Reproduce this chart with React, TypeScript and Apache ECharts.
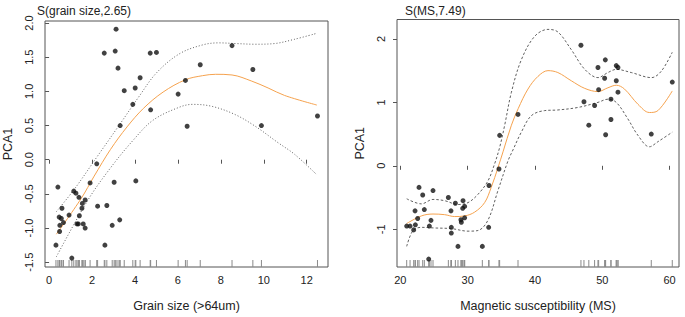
import React, { useEffect, useRef } from "react";
import * as echarts from "echarts";

// Left panel: grain size
const grainX = [2.57, 3.12, 3.08, 3.21, 3.31, 3.5, 3.9, 4.01, 4.24, 4.71, 4.73, 5.0, 6.01, 6.35, 6.43, 7.04, 8.52, 9.49, 9.89, 12.5,
  2.22, 0.41, 1.91, 3.03, 4.04, 1.15, 1.25, 1.39, 1.68, 1.55, 0.6, 1.53, 2.26, 2.69, 0.93, 1.41, 0.47, 0.57, 0.67, 3.29,
  0.5, 1.3, 1.36, 1.59, 1.68, 2.94, 0.49, 0.32, 2.6, 1.06];
const grainY = [1.56, 1.91, 1.59, 1.34, 0.5, 1.01, 0.81, 1.05, 1.2, 1.56, 0.73, 1.57, 0.96, 1.16, 0.49, 1.39, 1.67, 1.32, 0.5, 0.64,
  -0.06, -0.4, -0.34, -0.33, -0.31, -0.46, -0.49, -0.55, -0.59, -0.64, -0.71, -0.71, -0.68, -0.67, -0.81, -0.82, -0.84, -0.86, -0.92, -0.88,
  -0.96, -0.94, -0.94, -0.94, -1.0, -0.96, -1.05, -1.25, -1.25, -1.44];
const gFitX = [0.34, 1.49, 2.1, 2.86, 3.63, 4.39, 5.31, 6.35, 7.15, 7.76, 8.52, 9.44, 10.2, 10.97, 12.47];
const gFit = [-1.09, -0.57, -0.24, 0.15, 0.48, 0.75, 0.99, 1.17, 1.23, 1.25, 1.24, 1.15, 1.05, 0.94, 0.8];
const gUpperX = [0.34, 1.18, 2.25, 3.32, 4.2, 5.0, 6.07, 7.15, 7.9, 8.7, 9.6, 10.5, 11.4, 12.47];
const gUpper = [-0.76, -0.43, 0.05, 0.53, 0.93, 1.27, 1.55, 1.68, 1.71, 1.7, 1.69, 1.7, 1.76, 1.85];
const gLowerX = [0.34, 1.79, 2.86, 3.93, 4.85, 6.08, 6.69, 7.6, 8.67, 9.6, 10.66, 11.43, 12.47];
const gLower = [-1.42, -0.6, -0.12, 0.29, 0.58, 0.77, 0.81, 0.78, 0.66, 0.49, 0.25, 0.08, -0.22];
const gXTicks = [0, 2, 4, 6, 8, 10, 12];
const gYTicks = [-1.5, -1.0, -0.5, 0.0, 0.5, 1.0, 1.5, 2.0];

// Right panel: magnetic susceptibility
const msX = [46.83, 49.36, 50.45, 52.08, 52.33, 50.35, 52.08, 49.46, 52.33, 51.29, 47.28, 48.86, 37.48, 48.0, 51.29, 50.5, 34.75, 57.28, 60.4,
  34.65, 33.17, 22.77, 24.85, 23.32, 27.13, 29.31, 28.17, 29.55, 29.26, 23.56, 27.52, 22.18, 29.55, 22.57, 29.0, 24.55, 29.06, 22.23,
  20.94, 21.44, 24.31, 27.57, 33.12, 21.98, 27.57, 28.56, 32.18, 24.21];
const msY = [1.9, 1.55, 1.67, 1.58, 1.55, 1.38, 1.34, 1.2, 1.16, 1.05, 1.01, 0.95, 0.81, 0.64, 0.73, 0.49, 0.48, 0.5, 1.32,
  -0.05, -0.31, -0.34, -0.39, -0.46, -0.5, -0.55, -0.59, -0.64, -0.67, -0.69, -0.71, -0.71, -0.82, -0.83, -0.85, -0.86, -0.89, -0.93,
  -0.95, -0.95, -0.95, -0.97, -0.97, -1.01, -1.06, -1.27, -1.27, -1.47];
const mFitX = [20.94, 23.12, 24.85, 26.58, 28.07, 29.55, 31.04, 32.52, 33.5, 34.5, 35.25, 36.5, 37.5, 38.96, 40.45, 41.93, 43.4, 45.4, 47.4, 49.36, 50.84, 52.08, 53.3, 55.3, 57.0, 58.27, 60.4];
const mFit = [-0.91, -0.79, -0.76, -0.77, -0.8, -0.79, -0.73, -0.58, -0.34, -0.03, 0.22, 0.64, 0.9, 1.21, 1.41, 1.5, 1.47, 1.34, 1.22, 1.17, 1.23, 1.27, 1.21, 0.97, 0.84, 0.87, 1.18];
const mUpperX = [20.94, 23.12, 24.85, 26.58, 28.56, 30.05, 31.53, 33.0, 34.0, 34.75, 35.5, 36.5, 37.97, 39.95, 41.93, 43.4, 45.4, 47.4, 49.36, 50.84, 52.08, 54.3, 57.3, 58.76, 60.4];
const mUpper = [-0.52, -0.6, -0.53, -0.55, -0.61, -0.58, -0.45, -0.24, 0.03, 0.29, 0.64, 1.16, 1.67, 2.04, 2.15, 2.11, 1.83, 1.52, 1.39, 1.47, 1.52, 1.47, 1.39, 1.49, 1.79];
const mLowerX = [20.94, 21.88, 23.12, 25.1, 27.57, 30.05, 31.53, 33.0, 34.5, 36.0, 36.73, 37.97, 39.46, 41.44, 43.4, 46.4, 49.36, 50.84, 52.08, 53.8, 55.3, 57.0, 58.27, 60.4];
const mLower = [-1.27, -1.02, -0.97, -0.98, -0.99, -1.03, -1.02, -0.86, -0.39, 0.08, 0.25, 0.53, 0.79, 0.87, 0.88, 0.92, 1.0, 1.05, 1.0, 0.74, 0.48, 0.3, 0.38, 0.53];
const mXTicks = [20, 30, 40, 50, 60];
const mYTicks = [-1, 0, 1, 2];

const titles = ["S(grain size,2.65)", "S(MS,7.49)"];
const xNames = ["Grain size (>64um)", "Magnetic susceptibility (MS)"];
const yName = "PCA1";

const FONT = "'Liberation Sans', Arial, Helvetica, sans-serif";
const TXT = "#222";
const BOX = "#555";
const ORANGE = "#f5a24e";
const CI = "#606060";

const zip = (xs: number[], ys: number[]) => xs.map((x, i) => [x, ys[i]]);

export default function App() {
  const ref = useRef<HTMLDivElement>(null);
  useEffect(() => {
    if (!ref.current) return;
    const chart = echarts.init(ref.current, null, { renderer: "svg" });
    const gMin = -1.57, gMax = 2.03, mMin = -1.595, mMax = 2.306;
    const xAxisBase = (gi: number, min: number, max: number, ticks: number[], name: string, fmt: (v: number) => string) => ({
      type: "value",
      gridIndex: gi,
      min,
      max,
      name,
      nameLocation: "middle",
      nameGap: 32,
      nameTextStyle: { fontSize: 12.5, color: TXT, fontFamily: FONT },
      axisLine: { show: false },
      splitLine: { show: false },
      axisTick: { show: true, length: 4, customValues: ticks, lineStyle: { color: BOX } },
      axisLabel: { customValues: ticks, fontSize: 11, color: TXT, margin: 7, fontFamily: FONT, formatter: fmt },
    });
    const yAxisBase = (gi: number, min: number, max: number, ticks: number[], fmt: (v: number) => string) => ({
      type: "value",
      gridIndex: gi,
      min,
      max,
      name: yName,
      nameLocation: "middle",
      nameGap: 31,
      nameTextStyle: { fontSize: 12.5, color: TXT, fontFamily: FONT },
      axisLine: { show: false },
      splitLine: { show: false },
      axisTick: { show: true, length: 4, customValues: ticks, lineStyle: { color: BOX } },
      axisLabel: { customValues: ticks, fontSize: 11, color: TXT, margin: 11, rotate: 90, fontFamily: FONT, formatter: fmt },
    });
    const rug = (xi: number, xs: number[], ymin: number) => ({
      type: "custom",
      xAxisIndex: xi,
      yAxisIndex: xi,
      data: xs.map((x) => [x, ymin]),
      encode: { x: 0, y: 1 },
      silent: true,
      renderItem: (params: any, api: any) => {
        const p = api.coord([api.value(0), api.value(1)]);
        return {
          type: "line",
          shape: { x1: p[0], y1: p[1], x2: p[0], y2: p[1] - 7 },
          style: { stroke: "#8a8a8a", lineWidth: 1 },
        };
      },
    });
    const line = (xi: number, xs: number[], ys: number[], color: string, type: any) => ({
      type: "line",
      xAxisIndex: xi,
      yAxisIndex: xi,
      data: zip(xs, ys),
      smooth: 0.35,
      showSymbol: false,
      symbol: "none",
      silent: true,
      lineStyle: { color, width: 1, type },
      z: 3,
    });
    const scatter = (xi: number, xs: number[], ys: number[]) => ({
      type: "scatter",
      xAxisIndex: xi,
      yAxisIndex: xi,
      data: zip(xs, ys),
      symbolSize: 5,
      itemStyle: { color: "#111" },
      silent: true,
      z: 4,
    });
    chart.setOption({
      animation: false,
      textStyle: { fontFamily: FONT },
      title: [
        { text: titles[0], left: 32, top: 0, textStyle: { fontSize: 12, fontWeight: "normal", color: TXT, fontFamily: FONT } },
        { text: titles[1], left: 400, top: 0, textStyle: { fontSize: 12, fontWeight: "normal", color: TXT, fontFamily: FONT } },
      ],
      grid: [
        { left: 41, top: 21, width: 287, height: 250, show: true, borderColor: BOX, borderWidth: 1, backgroundColor: "transparent" },
        { left: 397, top: 19.5, width: 282, height: 251.5, show: true, borderColor: BOX, borderWidth: 1, backgroundColor: "transparent" },
      ],
      xAxis: [
        xAxisBase(0, -0.19, 12.99, gXTicks, xNames[0], (v: number) => String(v)),
        xAxisBase(1, 19.5, 61.4, mXTicks, xNames[1], (v: number) => String(v)),
      ],
      yAxis: [
        yAxisBase(0, gMin, gMax, gYTicks, (v: number) => v.toFixed(1)),
        yAxisBase(1, mMin, mMax, mYTicks, (v: number) => String(v)),
      ],
      series: [
        rug(0, grainX, gMin),
        line(0, gUpperX, gUpper, CI, [1, 2]),
        line(0, gLowerX, gLower, CI, [1, 2]),
        line(0, gFitX, gFit, ORANGE, "solid"),
        scatter(0, grainX, grainY),
        rug(1, msX, mMin),
        line(1, mUpperX, mUpper, CI, [2.5, 2]),
        line(1, mLowerX, mLower, CI, [2.5, 2]),
        line(1, mFitX, mFit, ORANGE, "solid"),
        scatter(1, msX, msY),
      ],
    });
    return () => chart.dispose();
  }, []);
  return (
    <div
      ref={ref}
      style={{ position: "fixed", left: 0, top: 0, width: 685, height: 317, background: "#fff" }}
    />
  );
}
